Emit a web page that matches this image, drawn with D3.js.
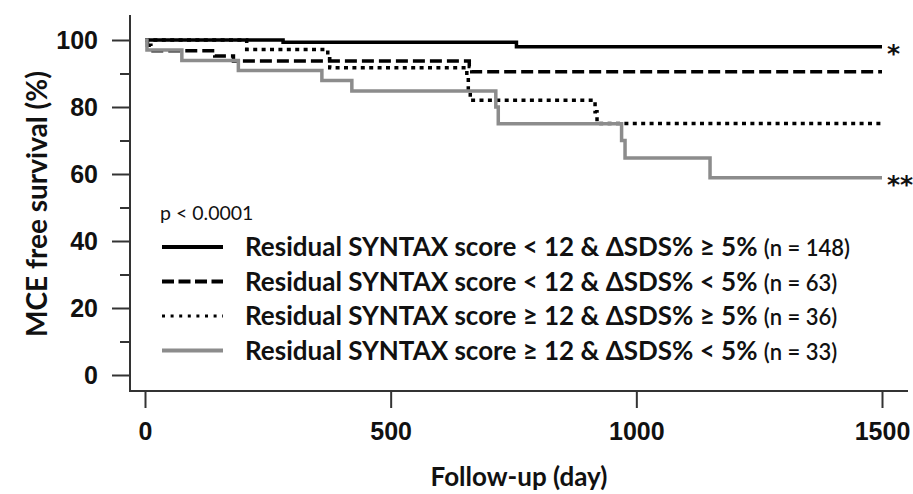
<!DOCTYPE html>
<html>
<head>
<meta charset="utf-8">
<script src="https://cdn.jsdelivr.net/npm/d3@7"></script>
<style>
  body { margin: 0; background: #fff; }
  svg { display: block; font-family: Lato, "Open Sans", sans-serif; }
  .tick text { font-weight: bold; font-size: 25px; fill: #111; }
</style>
</head>
<body>
<svg id="chart" width="913" height="494"></svg>
<script>
// Kaplan-Meier steps: [day, survival %]
const solidSteps = [[0, 100], [281, 99.3], [756, 98.0], [1500, 98.0]];
const dashedSteps = [[0, 100], [5, 98.4], [12, 96.8], [142, 95.2], [180, 93.7],
  [660, 92.1], [665, 90.5], [1500, 90.5]];
const dottedSteps = [[0, 100], [207, 97.2], [372, 94.4], [376, 91.7], [655, 88.9],
  [658, 85.5], [662, 82.0], [916, 78.6], [920, 75.1], [1500, 75.1]];
const graySteps = [[0, 100], [4, 97.0], [75, 93.9], [190, 90.9], [360, 87.9],
  [421, 84.8], [714, 80.0], [719, 75.0], [970, 70.0], [977, 64.8], [1150, 58.9], [1500, 58.9]];

const legendLabels = [
  "Residual SYNTAX score < 12 & \u0394SDS% \u2265 5%",
  "Residual SYNTAX score < 12 & \u0394SDS% < 5%",
  "Residual SYNTAX score \u2265 12 & \u0394SDS% \u2265 5%",
  "Residual SYNTAX score \u2265 12 & \u0394SDS% < 5%"
];
const legendCounts = ["(n = 148)", "(n = 63)", "(n = 36)", "(n = 33)"];
const xTicks = [0, 500, 1000, 1500];
const yTicks = [0, 20, 40, 60, 80, 100];
const yMinorTicks = [10, 30, 50, 70, 90];
const endMarks = ["*", "", "", "**"];

const svg = d3.select("#chart");

const x = d3.scaleLinear().domain([0, 1500]).range([145, 882]);
const y = d3.scaleLinear().domain([0, 100]).range([375, 40]);

const axisColor = "#333";

// line styles per series
const styles = [
  { color: "#000", width: 3.5, dash: null },
  { color: "#000", width: 3.5, dash: "12,5" },
  { color: "#000", width: 3.5, dash: "4,4.4" },
  { color: "#8c8c8c", width: 3.5, dash: null }
];
const series = [solidSteps, dashedSteps, dottedSteps, graySteps];

// axis lines (L shape)
svg.append("line")
  .attr("x1", 130).attr("x2", 130).attr("y1", 15).attr("y2", 391)
  .attr("stroke", axisColor).attr("stroke-width", 2);
svg.append("line")
  .attr("x1", 129).attr("x2", 908).attr("y1", 391).attr("y2", 391)
  .attr("stroke", axisColor).attr("stroke-width", 2);

// y axis
const yAxis = svg.append("g")
  .attr("transform", "translate(130,0)")
  .call(d3.axisLeft(y).tickValues(yTicks).tickSize(18).tickPadding(14).tickSizeOuter(0));
yAxis.select(".domain").remove();
yAxis.selectAll(".tick line").attr("stroke", axisColor).attr("stroke-width", 2);

const yMinor = svg.append("g")
  .attr("transform", "translate(130,0)")
  .call(d3.axisLeft(y).tickValues(yMinorTicks).tickSize(10).tickFormat(""));
yMinor.select(".domain").remove();
yMinor.selectAll(".tick line").attr("stroke", axisColor).attr("stroke-width", 2);

// x axis
const xAxis = svg.append("g")
  .attr("transform", "translate(0,391)")
  .call(d3.axisBottom(x).tickValues(xTicks).tickFormat(d3.format("d"))
    .tickSize(17).tickPadding(14).tickSizeOuter(0));
xAxis.select(".domain").remove();
xAxis.selectAll(".tick line").attr("stroke", axisColor).attr("stroke-width", 2);

// axis titles
svg.append("text")
  .attr("transform", "translate(47,204) rotate(-90)")
  .attr("text-anchor", "middle")
  .attr("font-size", 28).attr("font-weight", "bold").attr("fill", "#111")
  .text("MCE free survival (%)");

svg.append("text")
  .attr("x", 519).attr("y", 486)
  .attr("text-anchor", "middle")
  .attr("font-size", 26).attr("font-weight", "bold").attr("fill", "#111")
  .text("Follow-up (day)");

// survival curves
const line = d3.line()
  .x((d) => x(d[0]))
  .y((d) => y(d[1]))
  .curve(d3.curveStepAfter);

series.forEach((s, i) => {
  const st = styles[i];
  const p = svg.append("path")
    .attr("d", line(s))
    .attr("fill", "none")
    .attr("stroke", st.color)
    .attr("stroke-width", st.width);
  if (st.dash) p.attr("stroke-dasharray", st.dash);
});

// significance marks at curve ends
series.forEach((s, i) => {
  if (!endMarks[i]) return;
  const last = s[s.length - 1];
  svg.append("text")
    .attr("x", x(last[0]) + 5)
    .attr("y", y(last[1]) + 15)
    .attr("font-family", "DejaVu Sans")
    .attr("font-size", 25).attr("font-weight", "bold").attr("fill", "#111")
    .text(endMarks[i]);
});

// p-value and legend
svg.append("text")
  .attr("x", 160).attr("y", 220)
  .attr("font-size", 19.5).attr("fill", "#111")
  .text("p < 0.0001");

const legendStyles = [
  { color: "#000", width: 4, dash: null },
  { color: "#000", width: 4, dash: "12,4.5" },
  { color: "#000", width: 3, dash: "3,5.6" },
  { color: "#8c8c8c", width: 4, dash: null }
];

legendLabels.forEach((lab, i) => {
  const ly = 247 + i * 34.5;
  const st = legendStyles[i];
  const l = svg.append("line")
    .attr("x1", 162).attr("x2", 223).attr("y1", ly).attr("y2", ly)
    .attr("stroke", st.color).attr("stroke-width", st.width);
  if (st.dash) l.attr("stroke-dasharray", st.dash);
  const t = svg.append("text")
    .attr("x", 245).attr("y", ly + 9)
    .attr("fill", "#111");
  t.append("tspan").attr("font-size", 26).attr("font-weight", "bold").text(lab + " ");
  t.append("tspan").attr("font-size", 22).attr("font-weight", 600).text(legendCounts[i]);
});
</script>
</body>
</html>
